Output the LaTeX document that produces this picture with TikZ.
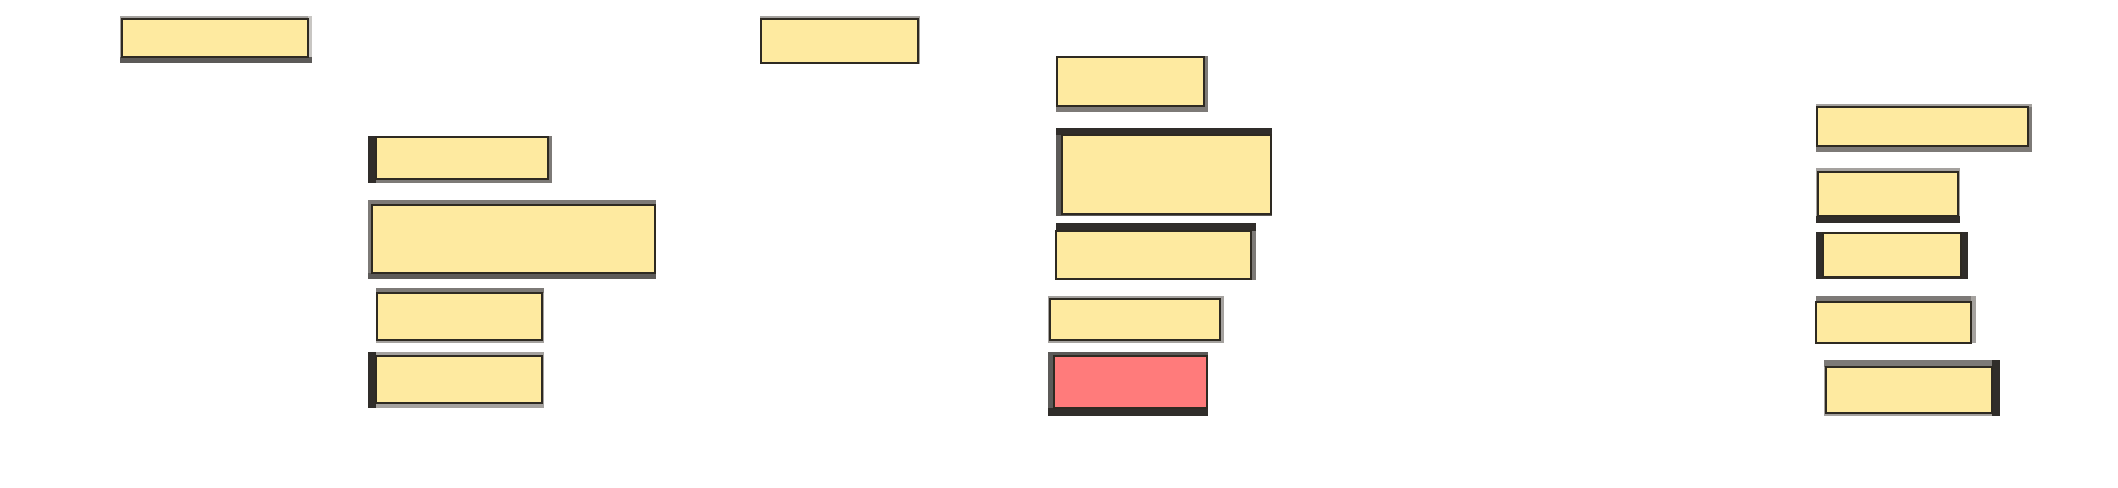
\documentclass[tikz,border=0pt]{standalone}
\usepackage{xcolor}
\usetikzlibrary{positioning}
\definecolor{paper}{RGB}{254,234,160}
\definecolor{alert}{RGB}{255,123,123}
\definecolor{edge}{RGB}{46,42,34}
\definecolor{shadeA}{RGB}{200,198,195}
\definecolor{shadeB}{RGB}{165,162,159}
\definecolor{shadeC}{RGB}{125,122,119}
\definecolor{shadeD}{RGB}{92,90,88}
\definecolor{shadeE}{RGB}{48,45,42}

\begin{document}
\begin{tikzpicture}[x=0.01cm, y=-0.01cm,
    panel/.style={fill=paper, draw=edge, line width=0.6pt}]
    \useasboundingbox (0,0) rectangle (2118,488);

    % 左列
    \fill[shadeB] (120,16) rectangle (312,63);
    \fill[shadeA] (308,16) rectangle (312,63);
    \fill[shadeD] (120,57) rectangle (312,63);
    \draw[panel] (122,19) rectangle (308,57);

    \fill[shadeC] (368,136) rectangle (552,183);
    \fill[shadeE] (368,136) rectangle (376,183);
    \draw[panel] (376,137) rectangle (548,179);

    \fill[shadeC] (368,200) rectangle (656,279);
    \fill[shadeD] (368,273) rectangle (656,279);
    \draw[panel] (372,205) rectangle (655,273);

    \fill[shadeB] (376,288) rectangle (544,343);
    \fill[shadeC] (376,288) rectangle (544,293);
    \draw[panel] (377,293) rectangle (542,340);

    \fill[shadeB] (368,352) rectangle (544,408);
    \fill[shadeE] (368,352) rectangle (376,408);
    \draw[panel] (376,356) rectangle (542,403);

    % 中列
    \fill[shadeB] (760,16) rectangle (920,64);
    \draw[panel] (761,19) rectangle (918,63);

    \fill[shadeC] (1056,56) rectangle (1208,112);
    \draw[panel] (1057,57) rectangle (1204,106);

    \fill[shadeD] (1056,128) rectangle (1272,216);
    \fill[shadeE] (1056,128) rectangle (1272,135);
    \draw[panel] (1062,135) rectangle (1271,214);

    \fill[shadeC] (1056,223) rectangle (1256,280);
    \fill[shadeE] (1056,223) rectangle (1256,231);
    \draw[panel] (1056,231) rectangle (1251,279);

    \fill[shadeB] (1048,296) rectangle (1224,343);
    \draw[panel] (1050,299) rectangle (1220,340);

    % 红色块
    \fill[shadeD] (1048,352) rectangle (1208,416);
    \fill[shadeE] (1048,408) rectangle (1208,416);
    \draw[panel, fill=alert] (1054,356) rectangle (1207,408);

    % 右列
    \fill[shadeC] (1816,104) rectangle (2032,152);
    \fill[shadeB] (1816,104) rectangle (2032,107);
    \draw[panel] (1817,107) rectangle (2028,146);

    \fill[shadeB] (1816,168) rectangle (1960,223);
    \fill[shadeE] (1816,216) rectangle (1960,223);
    \draw[panel] (1818,172) rectangle (1958,216);

    \fill[shadeE] (1816,232) rectangle (1968,279);
    \draw[panel] (1823,233) rectangle (1961,277);

    \fill[shadeC] (1816,296) rectangle (1976,343);
    \fill[shadeB] (1971,296) rectangle (1976,343);
    \draw[panel] (1816,302) rectangle (1971,343);

    \fill[shadeB] (1824,360) rectangle (2000,416);
    \fill[shadeC] (1824,360) rectangle (2000,367);
    \fill[shadeE] (1992,360) rectangle (2000,416);
    \draw[panel] (1826,367) rectangle (1992,413);
\end{tikzpicture}
\end{document}
